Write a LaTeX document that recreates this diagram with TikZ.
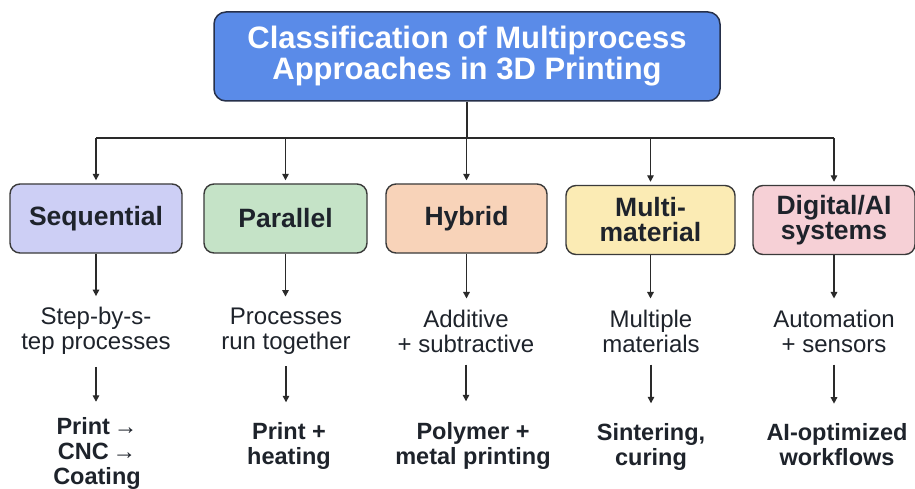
\documentclass[tikz,border=0pt]{standalone}
\usepackage{fontspec}
\setmainfont{Liberation Sans}
\usetikzlibrary{arrows.meta}
\definecolor{titleblue}{HTML}{5A8BE8}
\definecolor{titleedge}{HTML}{26304A}
\definecolor{seqfill}{HTML}{CDCFF5}
\definecolor{parfill}{HTML}{C5E3C7}
\definecolor{hybfill}{HTML}{F8D3B9}
\definecolor{mulfill}{HTML}{FBEBB4}
\definecolor{digfill}{HTML}{F6D0D6}
\definecolor{edgegray}{HTML}{3A3A3A}
\definecolor{inktext}{HTML}{1E232B}
\definecolor{linecol}{HTML}{2A2A2A}
\begin{document}
\begin{tikzpicture}[x=1pt,y=-1pt,
  titlebox/.style={draw=titleedge, line width=1.5pt, rounded corners=12pt, fill=titleblue,
    text=white, align=center, font=\bfseries\fontsize{31}{31}\selectfont,
    minimum width=506, minimum height=89, inner sep=0pt},
  catbox/.style={draw=edgegray, line width=1.4pt, rounded corners=10pt, align=center,
    text=inktext, font=\bfseries\fontsize{26.5}{25}\selectfont,
    minimum height=69, inner sep=0pt},
  desc/.style={align=center, text=inktext, font=\fontsize{24}{25}\selectfont, inner sep=0pt},
  result/.style={align=center, text=inktext, font=\bfseries\fontsize{23.5}{25}\selectfont, inner sep=0pt},
  conn/.style={draw=linecol, line width=1.4pt},
  arr/.style={conn, -{Triangle[length=6.5pt,width=6.5pt]}}
]
\useasboundingbox (0,0) rectangle (915,489);
\fill[white] (0,0) rectangle (915,489);

\node[titlebox] (title) at (467,56.5) {Classification of Multiprocess\\Approaches in 3D Printing};

\node[catbox, fill=seqfill, minimum width=172] (seq) at (96,218.5) {Sequential};
\node[catbox, fill=parfill, minimum width=163] (par) at (285.5,218.5) {Parallel};
\node[catbox, fill=hybfill, minimum width=161] (hyb) at (466.5,218.5) {Hybrid};
\node[catbox, fill=mulfill, minimum width=169] (mul) at (650.5,220) {Multi-\\material};
\node[catbox, fill=digfill, minimum width=162] (dig) at (834,220) {Digital/AI\\systems};

\coordinate (bus) at (0,138);
\draw[conn] (title.south) -- (title.south |- bus);
\draw[conn] (seq.north |- bus) -- (dig.north |- bus);
\foreach \n in {seq,par,hyb,mul,dig}
  \draw[arr, shorten >=3pt] (\n.north |- bus) -- (\n.north);

\node[desc] (seqd) at (96,331) {Step-by-s-\\tep processes};
\node[desc] (pard) at (286,331) {Processes\\run together};
\node[desc] (hybd) at (466,331) {Additive\\+ subtractive};
\node[desc] (muld) at (651,331) {Multiple\\materials};
\node[desc] (digd) at (834,331) {Automation\\+ sensors};

\node[result] (seqr) at (97,453) {Print\,→\\CNC\,→\\Coating};
\node[result] (parr) at (289,446) {Print +\\heating};
\node[result] (hybr) at (473,446) {Polymer +\\metal printing};
\node[result] (mulr) at (651,447) {Sintering,\\curing};
\node[result] (digr) at (837,445) {AI-optimized\\workflows};

\foreach \n/\s in {seq/15pt,par/20pt,hyb/21pt,mul/20pt,dig/20pt}{
  \draw[arr, shorten >=11pt] (\n.south) -- (\n.south |- \n d.north);
  \draw[arr, shorten <=12pt, shorten >=\s] (\n d.south) -- (\n d.south |- \n r.north);
}
\end{tikzpicture}
\end{document}
